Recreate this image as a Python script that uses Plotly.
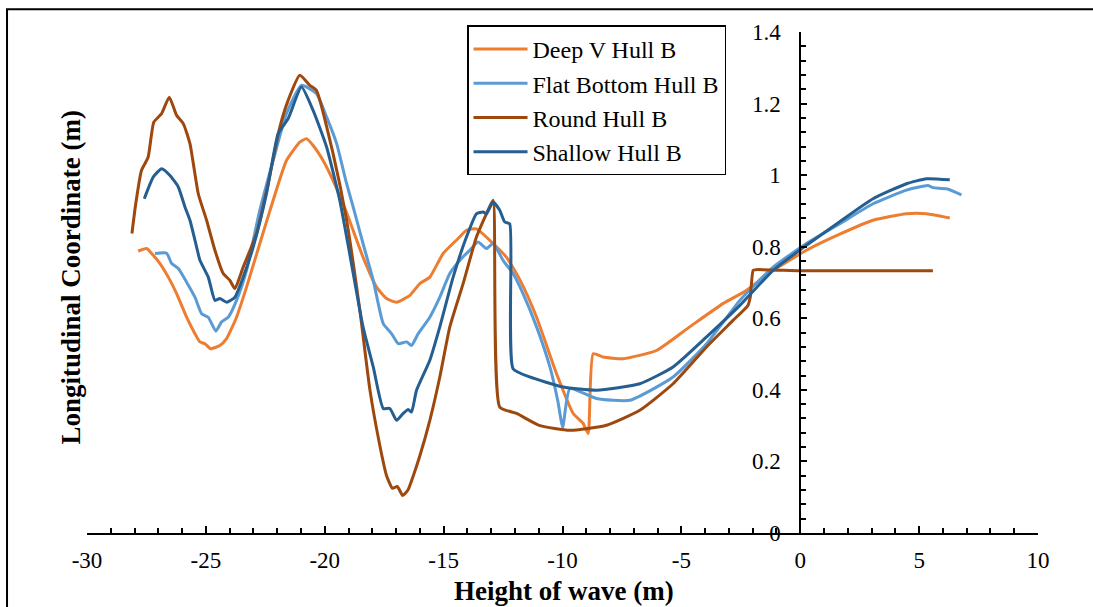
import plotly.graph_objects as go

# ---- data ----
deepv_x = [-27.85,-27.49,-27.28,-26.93,-26.58,-26.23,-25.81,-25.46,-25.25,-25.04,-24.8,-24.41,-24.13,-23.71,-23.29,-22.73,-22.17,-21.61,-21.05,-20.77,-20.49,-20.07,-19.65,-19.08,-18.39,-17.82,-17.4,-16.98,-16.42,-16.0,-15.58,-15.02,-14.39,-14.04,-13.62,-12.92,-12.36,-11.78,-11.09,-10.25,-9.55,-9.13,-8.92,-8.71,-8.29,-7.45,-6.05,-4.65,-3.25,-2.26,-1.14,0.26,1.66,3.06,4.47,5.31,6.29]
deepv_y = [0.788,0.795,0.781,0.753,0.715,0.669,0.603,0.557,0.534,0.529,0.515,0.524,0.543,0.603,0.687,0.809,0.93,1.041,1.092,1.102,1.083,1.041,0.985,0.895,0.771,0.687,0.655,0.645,0.664,0.697,0.715,0.781,0.823,0.846,0.85,0.809,0.771,0.706,0.603,0.445,0.334,0.306,0.278,0.501,0.492,0.487,0.51,0.576,0.641,0.678,0.734,0.79,0.835,0.874,0.892,0.892,0.88]

flat_x = [-27.14,-26.65,-26.44,-26.16,-25.81,-25.46,-25.18,-24.9,-24.58,-24.34,-24.06,-23.71,-23.29,-22.73,-22.17,-21.61,-20.98,-20.35,-19.92,-19.5,-19.08,-18.8,-18.39,-17.96,-17.54,-17.19,-16.91,-16.56,-16.35,-16.07,-15.58,-15.16,-14.74,-14.25,-13.9,-13.55,-13.2,-12.92,-12.5,-12.08,-11.66,-11.09,-10.53,-10.2,-9.99,-9.69,-8.57,-7.17,-5.35,-3.94,-2.54,-1.14,0.26,1.66,3.06,4.47,5.38,5.58,6.15,6.78]
flat_y = [0.781,0.782,0.753,0.739,0.701,0.659,0.613,0.603,0.564,0.59,0.603,0.65,0.734,0.902,1.041,1.172,1.251,1.228,1.162,1.088,0.976,0.91,0.809,0.706,0.585,0.557,0.529,0.534,0.524,0.557,0.603,0.659,0.725,0.767,0.79,0.813,0.795,0.809,0.762,0.725,0.669,0.576,0.464,0.37,0.296,0.403,0.376,0.371,0.436,0.529,0.65,0.743,0.809,0.864,0.92,0.958,0.971,0.965,0.962,0.945]

round_x = [-28.11,-27.95,-27.71,-27.43,-27.19,-26.86,-26.54,-26.23,-25.95,-25.67,-25.32,-24.97,-24.62,-24.27,-23.99,-23.78,-23.43,-22.87,-22.4,-21.89,-21.54,-21.05,-20.63,-20.35,-19.65,-19.08,-18.52,-18.1,-17.7,-17.4,-17.15,-16.95,-16.72,-16.5,-16.25,-15.99,-15.58,-15.16,-14.74,-14.18,-13.62,-13.2,-12.92,-12.64,-11.93,-10.95,-9.69,-8.15,-6.75,-5.35,-3.94,-2.83,-2.2,-2.1,-1.98,-1.84,0.0,2.0,5.58]
round_y = [0.837,0.92,1.013,1.05,1.148,1.172,1.218,1.167,1.144,1.088,0.948,0.874,0.79,0.725,0.706,0.683,0.743,0.837,0.97,1.134,1.209,1.279,1.251,1.237,1.06,0.874,0.62,0.4,0.25,0.16,0.125,0.13,0.105,0.12,0.165,0.218,0.315,0.436,0.576,0.697,0.827,0.892,0.93,0.352,0.334,0.30,0.287,0.301,0.343,0.417,0.52,0.594,0.636,0.66,0.734,0.736,0.733,0.733,0.733]

shallow_x = [-27.59,-27.21,-26.86,-26.51,-26.16,-25.88,-25.67,-25.39,-25.25,-24.9,-24.62,-24.41,-24.13,-23.78,-23.43,-23.01,-22.45,-21.96,-21.54,-20.98,-20.49,-19.92,-19.37,-18.95,-18.39,-17.96,-17.54,-17.26,-16.98,-16.7,-16.49,-16.35,-16.14,-15.58,-15.16,-14.6,-14.04,-13.62,-13.34,-13.2,-12.92,-12.64,-12.43,-12.22,-12.08,-11.38,-9.97,-8.57,-6.75,-5.35,-3.94,-2.54,-1.14,0.26,1.66,3.06,4.47,5.31,6.29]
shallow_y = [0.934,0.995,1.018,0.999,0.967,0.911,0.874,0.799,0.762,0.715,0.65,0.655,0.645,0.659,0.715,0.799,0.948,1.116,1.158,1.246,1.181,1.078,0.93,0.78,0.576,0.464,0.348,0.348,0.315,0.334,0.345,0.338,0.399,0.483,0.576,0.715,0.827,0.892,0.897,0.892,0.925,0.902,0.869,0.864,0.459,0.436,0.408,0.399,0.417,0.464,0.548,0.636,0.734,0.804,0.87,0.934,0.976,0.99,0.987]

series_names = ["Deep V Hull B", "Flat Bottom Hull B", "Round Hull B", "Shallow Hull B"]
series_colors = ["#ED7D31", "#5B9BD5", "#9E480E", "#255E91"]
series_x = [deepv_x, flat_x, round_x, shallow_x]
series_y = [deepv_y, flat_y, round_y, shallow_y]

x_tickvals = [-30, -25, -20, -15, -10, -5, 0, 5, 10]
x_ticktext = ["-30", "-25", "-20", "-15", "-10", "-5", "0", "5", "10"]
y_tickvals = [0, 0.2, 0.4, 0.6, 0.8, 1.0, 1.2, 1.4]
y_ticktext = ["0", "0.2", "0.4", "0.6", "0.8", "1", "1.2", "1.4"]

x_title = "Height of wave (m)"
y_title = "Longitudinal Coordinate (m)"

FONT = "Liberation Serif"

fig = go.Figure()
for name, col, xs, ys in zip(series_names, series_colors, series_x, series_y):
    fig.add_trace(go.Scatter(x=xs, y=ys, mode="lines", name=name,
                             line=dict(color=col, width=3, shape="spline", smoothing=0.5)))

fig.update_layout(
    width=1093, height=607,
    margin=dict(l=87, r=55, t=32, b=74),
    paper_bgcolor="white", plot_bgcolor="white",
    font=dict(family=FONT, size=23, color="black"),
    showlegend=True,
    legend=dict(x=0.3996, y=1.013, xanchor="left", yanchor="top",
                bordercolor="black", borderwidth=1.5, bgcolor="white",
                font=dict(family=FONT, size=24, color="black"),
                itemwidth=54, tracegroupgap=0),
    xaxis=dict(range=[-30, 10], tickmode="array", tickvals=x_tickvals, ticktext=x_ticktext,
               showgrid=False, zeroline=False,
               showline=True, linecolor="black", linewidth=2,
               ticks="inside", ticklen=7, tickwidth=1.5, tickcolor="black",
               minor=dict(dtick=1, tick0=0, ticks="inside", ticklen=5, tickcolor="black", tickwidth=1.5),
               ticklabelstandoff=5,
               tickfont=dict(family=FONT, size=23, color="black")),
    yaxis=dict(range=[0, 1.4], tickmode="array", tickvals=y_tickvals, ticktext=y_ticktext,
               showgrid=False, zeroline=False,
               anchor="free", position=0.75, side="left",
               showline=True, linecolor="black", linewidth=2,
               ticks="inside", ticklen=6, tickwidth=1.5, tickcolor="black",
               minor=dict(dtick=0.04, tick0=0, ticks="inside", ticklen=5, tickcolor="black", tickwidth=1.5),
               ticklabelstandoff=14,
               tickfont=dict(family=FONT, size=23, color="black")),
    annotations=[
        dict(text="<b>" + x_title + "</b>", xref="paper", yref="paper",
             x=0.5016, y=-0.1165, xanchor="center", yanchor="middle", showarrow=False,
             font=dict(family=FONT, size=27, color="black")),
        dict(text="<b>" + y_title + "</b>", xref="paper", yref="paper",
             x=-0.0158, y=0.512, xanchor="center", yanchor="middle", showarrow=False,
             textangle=-90, font=dict(family=FONT, size=27, color="black")),
    ],
    shapes=[
        dict(type="rect", xref="paper", yref="paper",
             x0=-0.0841, y0=-0.3, x1=1.2, y1=1.0453,
             line=dict(color="black", width=2), fillcolor="rgba(0,0,0,0)", layer="below"),
    ],
)

fig.write_html("out.html")
